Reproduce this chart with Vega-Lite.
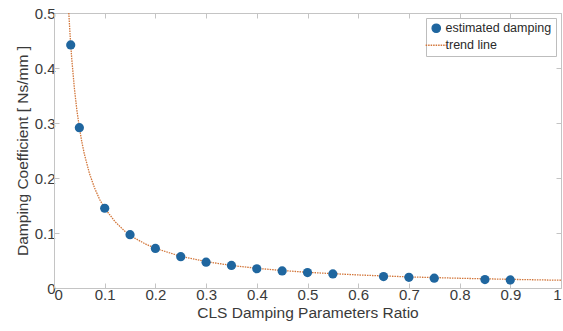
{
  "$schema": "https://vega.github.io/schema/vega-lite/v6.json",
  "width": 507,
  "height": 275,
  "autosize": "none",
  "padding": {"left": 54, "top": 13, "right": 2, "bottom": 43},
  "background": "white",
  "config": {
    "font": "Liberation Sans",
    "view": {"stroke": "#c4c4c4", "strokeWidth": 1},
    "axis": {
      "grid": false,
      "domainColor": "#c4c4c4",
      "tickColor": "#c4c4c4",
      "labelColor": "#3a3a3a",
      "titleColor": "#3a3a3a",
      "labelFont": "Liberation Sans",
      "titleFont": "Liberation Sans",
      "labelFontSize": 15,
      "titleFontSize": 15.5,
      "titleFontWeight": "normal",
      "tickSize": -5
    }
  },
  "datasets": {
    "measured": [
      {"ratio": 0.033, "damping": 0.442, "series": "estimated damping"},
      {"ratio": 0.05, "damping": 0.2915, "series": "estimated damping"},
      {"ratio": 0.1, "damping": 0.145, "series": "estimated damping"},
      {"ratio": 0.15, "damping": 0.097, "series": "estimated damping"},
      {"ratio": 0.2, "damping": 0.072, "series": "estimated damping"},
      {"ratio": 0.25, "damping": 0.057, "series": "estimated damping"},
      {"ratio": 0.3, "damping": 0.047, "series": "estimated damping"},
      {"ratio": 0.35, "damping": 0.041, "series": "estimated damping"},
      {"ratio": 0.4, "damping": 0.035, "series": "estimated damping"},
      {"ratio": 0.45, "damping": 0.031, "series": "estimated damping"},
      {"ratio": 0.5, "damping": 0.028, "series": "estimated damping"},
      {"ratio": 0.55, "damping": 0.0255, "series": "estimated damping"},
      {"ratio": 0.65, "damping": 0.0208, "series": "estimated damping"},
      {"ratio": 0.7, "damping": 0.0195, "series": "estimated damping"},
      {"ratio": 0.75, "damping": 0.0178, "series": "estimated damping"},
      {"ratio": 0.85, "damping": 0.0153, "series": "estimated damping"},
      {"ratio": 0.9, "damping": 0.0147, "series": "estimated damping"}
    ],
    "trend": [
      {"ratio": 0.0292, "damping": 0.5, "series": "trend line"},
      {"ratio": 0.032, "damping": 0.456, "series": "trend line"},
      {"ratio": 0.035, "damping": 0.417, "series": "trend line"},
      {"ratio": 0.04, "damping": 0.365, "series": "trend line"},
      {"ratio": 0.045, "damping": 0.324, "series": "trend line"},
      {"ratio": 0.05, "damping": 0.292, "series": "trend line"},
      {"ratio": 0.055, "damping": 0.265, "series": "trend line"},
      {"ratio": 0.06, "damping": 0.243, "series": "trend line"},
      {"ratio": 0.07, "damping": 0.208, "series": "trend line"},
      {"ratio": 0.08, "damping": 0.182, "series": "trend line"},
      {"ratio": 0.09, "damping": 0.161, "series": "trend line"},
      {"ratio": 0.1, "damping": 0.145, "series": "trend line"},
      {"ratio": 0.12, "damping": 0.121, "series": "trend line"},
      {"ratio": 0.14, "damping": 0.103, "series": "trend line"},
      {"ratio": 0.16, "damping": 0.0903, "series": "trend line"},
      {"ratio": 0.18, "damping": 0.0802, "series": "trend line"},
      {"ratio": 0.2, "damping": 0.0721, "series": "trend line"},
      {"ratio": 0.25, "damping": 0.0576, "series": "trend line"},
      {"ratio": 0.3, "damping": 0.0479, "series": "trend line"},
      {"ratio": 0.35, "damping": 0.041, "series": "trend line"},
      {"ratio": 0.4, "damping": 0.0358, "series": "trend line"},
      {"ratio": 0.45, "damping": 0.0318, "series": "trend line"},
      {"ratio": 0.5, "damping": 0.0285, "series": "trend line"},
      {"ratio": 0.6, "damping": 0.0237, "series": "trend line"},
      {"ratio": 0.7, "damping": 0.0202, "series": "trend line"},
      {"ratio": 0.8, "damping": 0.0177, "series": "trend line"},
      {"ratio": 0.9, "damping": 0.0157, "series": "trend line"},
      {"ratio": 1.0, "damping": 0.0141, "series": "trend line"}
    ],
    "frame": [{"ratio": 0, "damping": 0}]
  },
  "layer": [
    {
      "data": {"name": "trend"},
      "mark": {"type": "line", "strokeWidth": 1.3, "strokeDash": [1.5, 1], "clip": true},
      "encoding": {
        "x": {
          "field": "ratio",
          "type": "quantitative",
          "scale": {"domain": [0, 1], "nice": false},
          "axis": {
            "orient": "bottom",
            "title": "CLS Damping Parameters Ratio",
            "values": [0, 0.1, 0.2, 0.3, 0.4, 0.5, 0.6, 0.7, 0.8, 0.9, 1],
            "labelExpr": "datum.value === 0 || datum.value === 1 ? format(datum.value, 'd') : format(datum.value, '.1f')",
            "labelPadding": 4,
            "titlePadding": 3
          }
        },
        "y": {
          "field": "damping",
          "type": "quantitative",
          "scale": {"domain": [0, 0.5], "nice": false},
          "axis": {
            "orient": "left",
            "title": "Damping Coefficient [ Ns/mm ]",
            "values": [0, 0.1, 0.2, 0.3, 0.4, 0.5],
            "labelExpr": "datum.value === 0 ? '0' : format(datum.value, '.1f')",
            "labelPadding": 4,
            "titlePadding": 4
          }
        },
        "color": {
          "field": "series",
          "type": "nominal",
          "scale": {"domain": ["estimated damping", "trend line"], "range": ["#1f669f", "#d2763a"]},
          "legend": {
            "title": null,
            "orient": "top-right",
            "offset": 5,
            "padding": 4,
            "rowPadding": 3,
            "fillColor": "white",
            "strokeColor": "#bdbdbd",
            "labelFont": "Liberation Sans",
            "labelFontSize": 12.5,
            "labelColor": "#2a2a2a",
            "labelOffset": 3,
            "symbolSize": 90,
            "encode": {
              "symbols": {
                "update": {
                  "shape": {"signal": "datum.value === 'trend line' ? 'stroke' : 'circle'"},
                  "fill": {"signal": "datum.value === 'trend line' ? 'transparent' : '#1f669f'"},
                  "stroke": {"signal": "datum.value === 'trend line' ? '#d2763a' : 'transparent'"},
                  "strokeDash": {"signal": "datum.value === 'trend line' ? [1.5, 1] : []"},
                  "strokeWidth": {"value": 1.3},
                  "size": {"signal": "datum.value === 'trend line' ? 450 : 70"},
                  "opacity": {"value": 1}
                }
              }
            }
          }
        }
      }
    },
    {
      "data": {"name": "measured"},
      "mark": {"type": "point", "filled": true, "size": 85, "opacity": 1},
      "encoding": {
        "x": {"field": "ratio", "type": "quantitative", "axis": null},
        "y": {"field": "damping", "type": "quantitative", "axis": null},
        "color": {"field": "series", "type": "nominal"}
      }
    },
    {
      "data": {"name": "frame"},
      "mark": {"type": "point", "opacity": 0},
      "encoding": {
        "x": {"field": "ratio", "type": "quantitative", "axis": {"orient": "top", "title": null, "labels": false, "domain": false, "values": [0, 0.1, 0.2, 0.3, 0.4, 0.5, 0.6, 0.7, 0.8, 0.9, 1]}},
        "y": {"field": "damping", "type": "quantitative", "axis": {"orient": "right", "title": null, "labels": false, "domain": false, "values": [0, 0.1, 0.2, 0.3, 0.4, 0.5]}}
      }
    }
  ],
  "resolve": {"axis": {"x": "independent", "y": "independent"}}
}
